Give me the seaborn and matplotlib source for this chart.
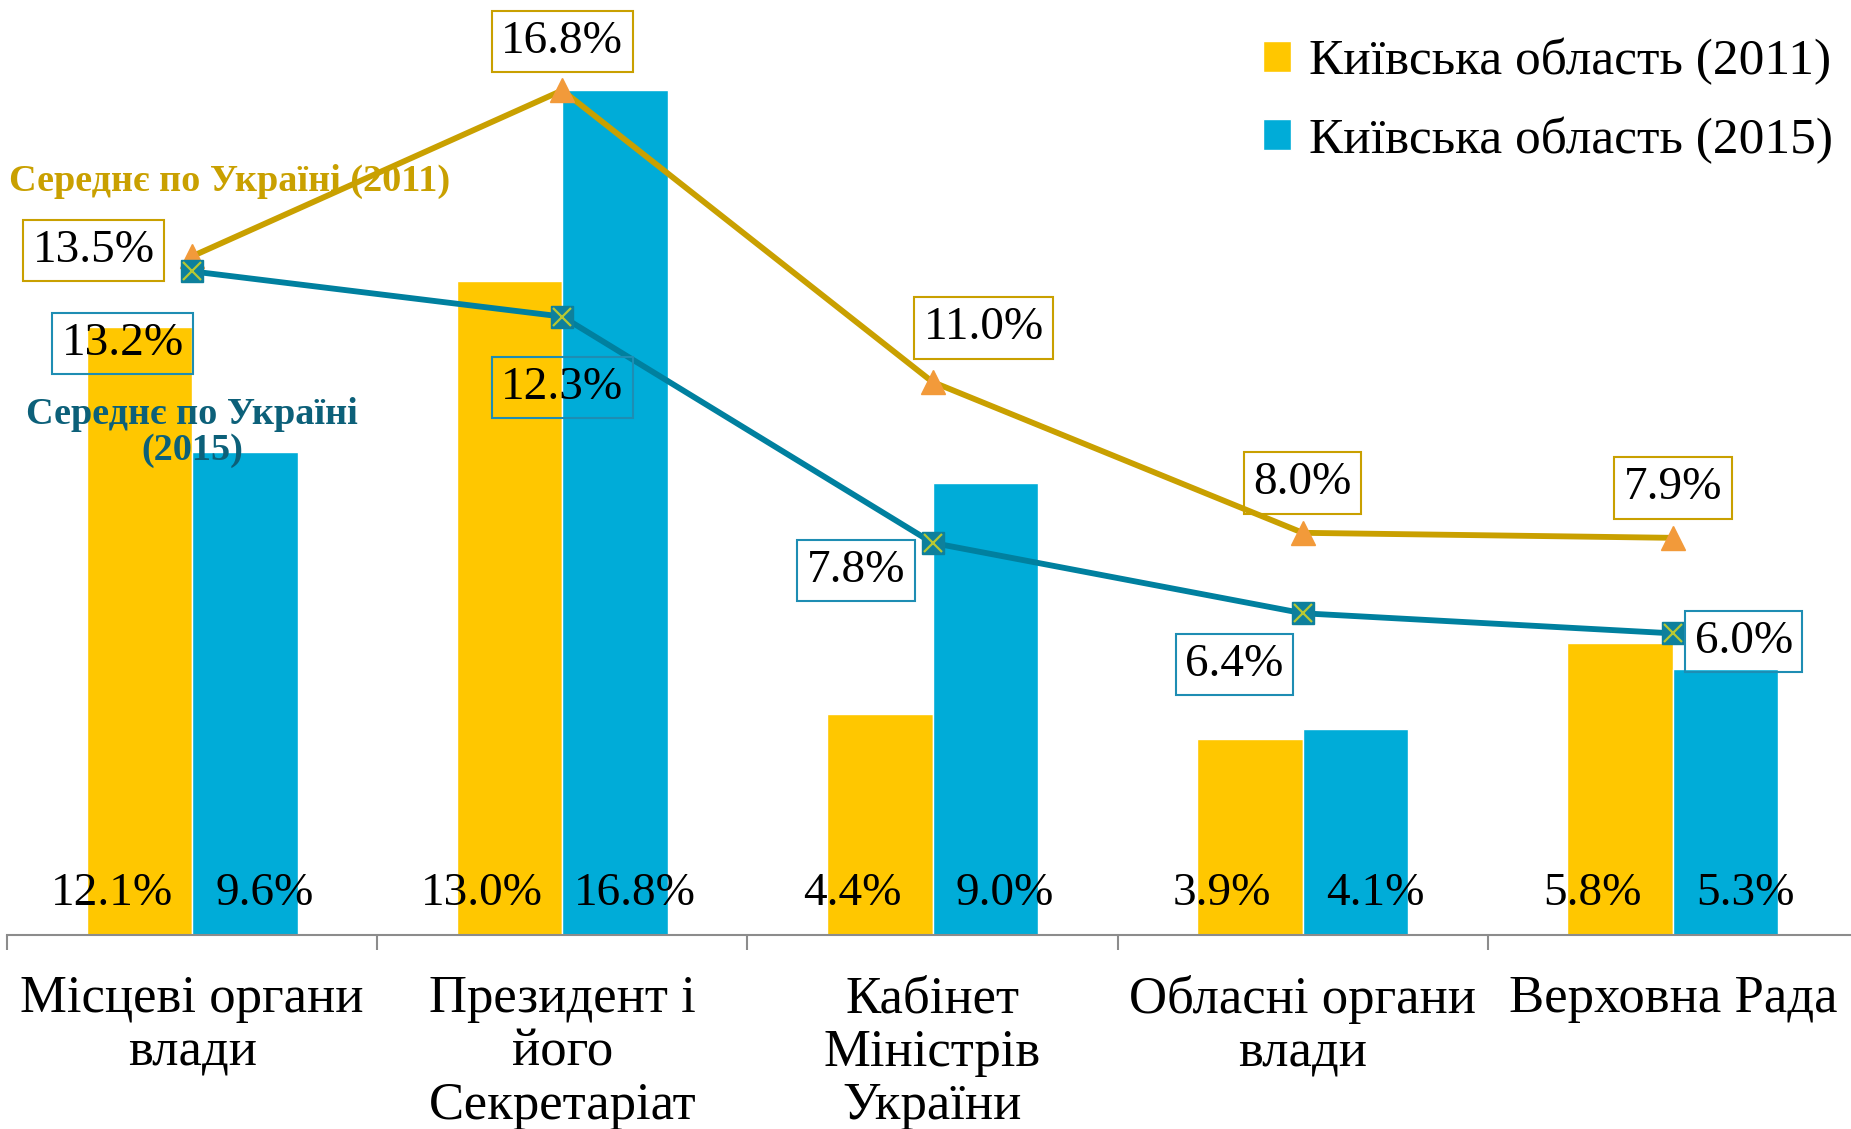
import numpy as np
import pandas as pd
import seaborn as sns
import matplotlib.pyplot as plt

# data
categories = ["Місцеві органи\nвлади", "Президент і\nйого\nСекретаріат",
              "Кабінет\nМіністрів\nУкраїни", "Обласні органи\nвлади", "Верховна Рада"]
kyiv_2011 = [12.1, 13.0, 4.4, 3.9, 5.8]
kyiv_2015 = [9.6, 16.8, 9.0, 4.1, 5.3]
ukraine_2011 = [13.5, 16.8, 11.0, 8.0, 7.9]
ukraine_2015 = [13.2, 12.3, 7.8, 6.4, 6.0]
series_names = ["Київська область (2011)", "Київська область (2015)"]

yellow = "#FFC700"
blue = "#00ACD8"
gold_line = "#C9A000"
teal_line = "#00809F"

df = pd.DataFrame({
    "cat": categories * 2,
    "series": [series_names[0]] * 5 + [series_names[1]] * 5,
    "value": kyiv_2011 + kyiv_2015,
})

sns.set_style("white")
plt.rcParams["font.family"] = ["Liberation Serif", "DejaVu Serif"]
plt.rcParams["text.color"] = "black"
plt.rcParams["xtick.color"] = "black"
plt.rcParams["xtick.labelcolor"] = "black"

fig = plt.figure(figsize=(18.51, 11.29), dpi=100)
ax = fig.add_axes([0.0038, 0.1718, 1.0, 0.8016])

sns.barplot(data=df, x="cat", y="value", hue="series", palette=[yellow, blue],
            width=0.57, gap=0, saturation=1, ax=ax)

xpos = np.arange(len(categories))
ax.plot(xpos, ukraine_2011, color=gold_line, lw=4.2, zorder=3)
ax.plot(xpos, ukraine_2011, ls="none", marker="^", ms=17, color="#F29A3A", zorder=4)
ax.plot(xpos, ukraine_2015, color=teal_line, lw=4.2, zorder=3)
ax.plot(xpos, ukraine_2015, ls="none", marker="s", ms=16, color="#0E809C",
        mec="#0E809C", zorder=4)
ax.plot(xpos, ukraine_2015, ls="none", marker="x", ms=13, mew=1.6,
        color="#B7C832", zorder=5)

# boxed labels for the lines (offsets in points)
off_2011 = [(-71, 4), (0, 35), (37, 39), (0, 36), (0, 36)]
off_2015 = [(-50, -52), (0, -51), (-55, -20), (-49, -37), (51, -6)]
for i, v in enumerate(ukraine_2011):
    ax.annotate(f"{v:.1f}%", (i, v), xytext=off_2011[i], textcoords="offset points",
                ha="center", va="center", fontsize=34, zorder=6,
                bbox=dict(boxstyle="square,pad=0.2", fc="none", ec=gold_line, lw=1.5))
for i, v in enumerate(ukraine_2015):
    ax.annotate(f"{v:.1f}%", (i, v), xytext=off_2015[i], textcoords="offset points",
                ha="center", va="center", fontsize=34, zorder=6,
                bbox=dict(boxstyle="square,pad=0.2", fc="none", ec="#1E8DB3", lw=1.5))

# bar value labels near the base
for cont, dx in zip(ax.containers, [-20, 14]):
    for p in cont:
        h = p.get_height()
        ax.annotate(f"{h:.1f}%", (p.get_x() + p.get_width() / 2, 0), xytext=(dx, 30),
                    textcoords="offset points", ha="center", va="center",
                    fontsize=34, zorder=6)

ax.text(0.1, 14.98, "Середнє по Україні (2011)", color=gold_line, fontsize=27.5,
        fontweight="bold", ha="center", va="center")
ax.text(0.0, 10.0, "Середнє по Україні\n(2015)", color="#0C6079", fontsize=27.5,
        fontweight="bold", ha="center", va="center", linespacing=1.05)

ax.set_xlim(-0.5, 4.5)
ax.set_ylim(0, 18)
ax.set_xlabel("")
ax.set_ylabel("")
ax.set_yticks([])
ax.set_xticks(xpos)
ax.set_xticklabels(categories, fontsize=38, linespacing=1.15)
ax.tick_params(axis="x", which="major", length=0, pad=29)
ax.set_xticks(np.arange(-0.5, 5, 1), minor=True)
ax.tick_params(axis="x", which="minor", bottom=True, direction="out", length=11,
               width=1.5, color="#8C8C8C")
for s in ["left", "right", "top"]:
    ax.spines[s].set_visible(False)
ax.spines["bottom"].set_color("#8C8C8C")
ax.spines["bottom"].set_linewidth(1.5)

handles, labels = ax.get_legend_handles_labels()
ax.legend(handles, labels, loc="upper right", bbox_to_anchor=(1.0, 0.982),
          bbox_transform=fig.transFigure, frameon=False, fontsize=37,
          borderaxespad=0.15, borderpad=0.2,
          handlelength=0.55, handleheight=0.55, handletextpad=0.35, labelspacing=0.6)

plt.savefig("out.png")
